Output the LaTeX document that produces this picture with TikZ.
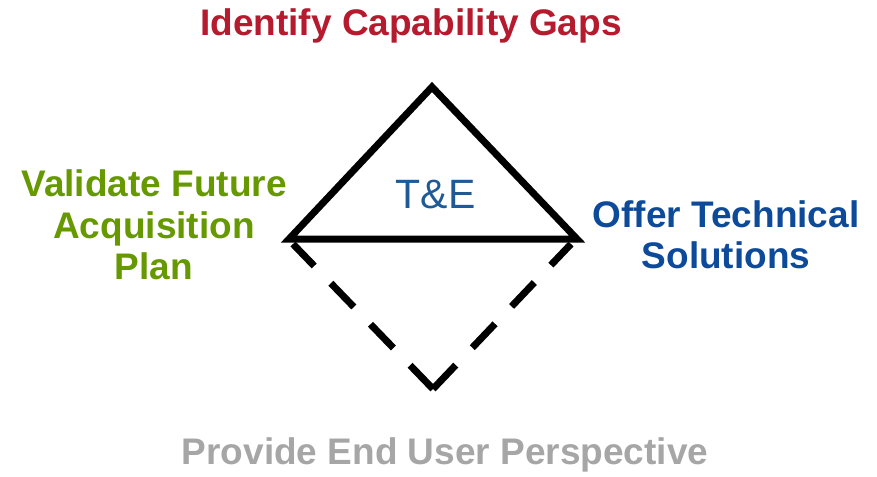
\documentclass[tikz,border=0pt]{standalone}
\usepackage{fontspec}
\setmainfont{Liberation Sans}
\definecolor{gapred}{HTML}{B51A2E}
\definecolor{valgreen}{HTML}{669900}
\definecolor{offblue}{HTML}{0D4A9A}
\definecolor{teblue}{HTML}{1F5A96}
\definecolor{usergray}{HTML}{A6A6A6}
\begin{document}
\begin{tikzpicture}[x=1pt,y=-1pt,
  lbl/.style={font=\fontsize{37}{41.5}\selectfont\bfseries, align=center, inner sep=0pt, anchor=base},
  solidedge/.style={line width=7pt, line join=miter, black},
  dashedge/.style={line width=7pt, black, line cap=butt, dash pattern=on 33pt off 24pt}]
\useasboundingbox (0,0) rectangle (877,476);
\coordinate (apex) at (432,87);
\coordinate (lc) at (289,239);
\coordinate (rc) at (577,239);
\coordinate (dl) at (293,244);
\coordinate (dr) at (571,244);
\coordinate (bot) at (433,389);
\draw[solidedge] (lc) -- (apex) -- (rc) -- cycle;
\draw[dashedge] (bot) -- (dl);
\draw[dashedge] (bot) -- (dr);
\node[lbl, text=gapred] (gaps) at (411,36) {Identify Capability Gaps};
\node[lbl, text=usergray] (user) at (445,464) {Provide End User Perspective};
\node[lbl, text=valgreen] (val1) at (154,196) {Validate Future};
\node[lbl, text=valgreen] (val2) at (154,238) {Acquisition};
\node[lbl, text=valgreen] (val3) at (154,279) {Plan};
\node[lbl, text=offblue] (off1) at (726,227) {Offer Technical};
\node[lbl, text=offblue] (off2) at (726,268) {Solutions};
\node[inner sep=0pt, anchor=base, text=teblue, font=\fontsize{41}{45}\selectfont] (te) at (435.5,208) {T\&E};
\end{tikzpicture}
\end{document}
